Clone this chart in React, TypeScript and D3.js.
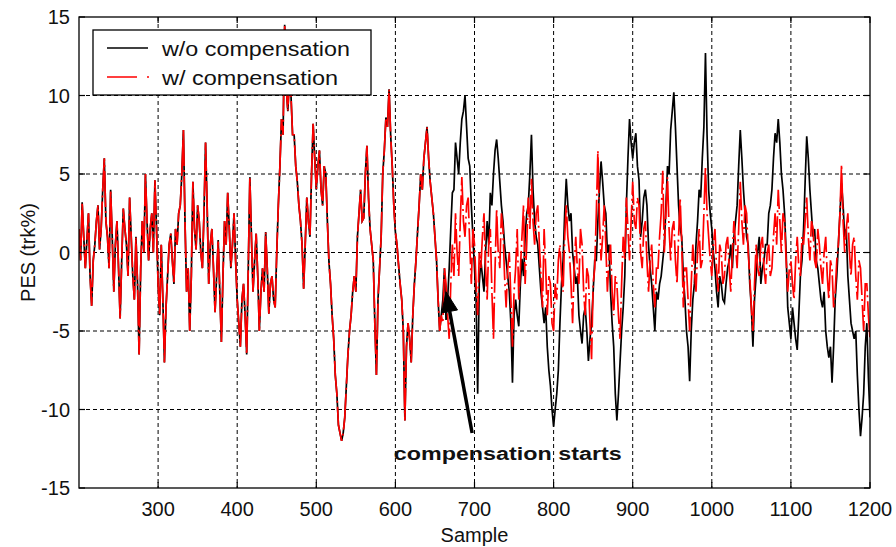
import React from 'react';
import * as d3 from 'd3';

const W = 896;
const H = 547;
const PLOT = { left: 79, right: 870, top: 17, bottom: 488 };

const SAMPLE_START = 200;
const SAMPLE_STEP = 2;

// Samples 200..658 (both series coincide before compensation starts)
const sharedBefore = [
  1.5, -0.5, 3.2, 1.0, -1.0, 0.8, 2.5, -1.5, -3.4, -0.5,
  0.5, 2.0, 3.0, 0.2, 1.5, 4.0, 6.0, 2.0, 1.0, -1.0,
  4.0, 1.0, -2.5, 0.5, 2.0, -1.0, -4.2, -0.5, 2.8, 1.5,
  0.5, -1.5, 3.5, 1.0, -1.5, -3.0, 1.0, -2.0, -6.5, -1.0,
  2.0, 0.0, 5.0, 2.0, -0.5, 1.5, 2.5, 0.0, 4.6, 1.5,
  -2.0, -4.0, 0.5, -3.0, -7.0, -3.5, -1.5, 0.5, 1.2, -0.5,
  -2.0, 1.5, 0.5, 2.5, 3.0, 5.0, 7.8, 2.0, -2.5, -1.0,
  -5.0, -1.5, 4.5, 1.5, 0.2, 3.0, 2.0, 0.0, -1.0, 2.5,
  7.0, 3.0, -2.0, 0.5, 1.5, -1.0, -3.8, -1.5, 0.8, -2.5,
  -5.7, -1.5, 2.0, 0.5, 3.8, 1.5, -1.0, 0.5, 2.5, -0.5,
  -3.0, -4.5, -6.0, -3.0, -2.0, -4.0, -6.5, -1.0, 4.8, 1.0,
  -2.5, -0.5, 1.2, -1.5, -5.0, -2.5, -1.0, -2.5, 1.3, -1.0,
  -3.9, -2.0, -1.5, -3.0, -3.5, 0.0, 3.0, 5.5, 8.5, 7.5,
  14.5, 10.5, 9.0, 11.0, 10.0, 7.5, 7.5, 5.5, 4.5, 3.0,
  2.0, 0.5, -2.3, 0.5, 3.5, 2.0, 1.0, 5.0, 8.2, 6.0,
  4.0, 5.5, 6.5, 4.0, 3.0, 5.5, 5.0, 2.0, -0.6, -2.0,
  -4.0, -5.5, -7.8, -9.0, -11.0, -11.5, -12.0, -11.5, -10.5, -8.5,
  -6.5, -5.0, -4.0, -2.5, -1.5, -2.5, 1.0, 2.5, 4.0, 2.0,
  2.2, 5.0, 6.8, 3.5, 1.5, 0.5, -0.5, -4.5, -7.8, -3.0,
  -1.0, 1.0, 5.0, 6.5, 8.6, 8.0, 10.4, 7.5, 5.5, 3.0,
  1.3, 0.5, -0.8, -2.0, -3.0, -5.0, -10.7, -6.0, -4.5, -5.5,
  -7.0, -4.0, -2.0, -0.5, 1.3, 3.0, 5.0, 4.0, 6.0, 7.0,
  8.0, 6.0, 4.5, 3.5, 2.5, 1.0, -0.5, -3.0, -5.0, -4.0,
];

// Samples 660..1200, without compensation
const blackAfter = [
  -3.0, -1.0, -4.3, -3.0, -1.0, 1.5, 3.8, 4.0, 7.0, 6.0,
  5.0, 7.0, 8.5, 9.0, 10.0, 8.0, 6.0, 5.5, 3.0, 1.0,
  -1.0, -3.0, -9.0, -2.0, -0.5, -1.5, -2.5, 0.0, 2.0, 0.5,
  3.8, 3.0, 5.0, 6.5, 7.2, 6.0, 4.5, 3.0, 2.0, 0.5,
  -0.5, -1.5, -2.5, -4.5, -8.3, -4.0, -3.0, -4.0, -4.7, -2.0,
  -0.4, -1.5, 1.0, 2.5, 3.0, 5.0, 7.5, 4.0, 2.0, 1.0,
  0.5, -1.0, -2.5, -3.5, -4.5, -3.5, -6.0, -7.5, -8.5, -10.0,
  -11.1, -10.0, -9.0, -7.5, -4.5, -2.0, -0.5, 2.5, 4.7, 3.0,
  2.0, 2.5, 0.0, -1.0, -2.0, -1.5, -4.0, -5.0, -5.8, -4.0,
  -3.5, -5.0, -6.9, -5.5, -4.5, -2.5, -0.5, -0.5, 2.0, 4.0,
  5.8, 4.5, 3.0, 2.5, 0.0, 0.5, -2.5, -4.5, -6.0, -9.0,
  -10.7, -9.0, -7.0, -5.0, -3.5, -1.5, 3.0, 6.0, 8.5, 7.0,
  6.0, 7.0, 7.6, 5.5, 4.6, 1.0, 2.0, 3.5, 4.0, 3.0,
  0.5, -1.0, -2.0, -3.5, -5.0, -2.5, -3.0, -2.0, -1.5, -0.5,
  0.5, 3.0, 5.5, 5.0, 7.8, 9.0, 10.2, 8.0, 5.5, 3.0,
  1.5, 1.0, -1.5, -3.0, -5.0, -6.0, -8.2, -5.0, -3.0, -2.0,
  0.5, 2.0, 4.0, 3.5, 6.0, 8.0, 12.7, 7.5, 4.0, 2.5,
  1.5, 0.0, -1.0, -2.5, -3.5, -1.5, -2.0, -3.0, -3.2, -2.0,
  -1.0, -0.5, 0.5, -1.0, 1.0, 2.0, 3.0, 5.5, 7.8, 6.0,
  4.0, 2.5, 1.0, 0.5, -2.0, -3.5, -6.0, -3.0, -1.5, 0.0,
  1.0, -2.0, -1.0, -0.5, 0.5, 0.5, 2.5, 3.0, 4.0, 6.0,
  7.6, 7.0, 8.5, 7.0, 5.0, 4.0, 2.5, 0.0, -3.5, -4.5,
  -5.5, -3.5, -4.5, -5.5, -6.2, -4.0, -1.5, -0.5, 1.5, 4.5,
  7.4, 6.0, 4.0, 2.5, 1.0, 1.5, -0.5, -1.0, -2.0, -3.0,
  -3.5, -2.5, -5.0, -6.0, -6.7, -6.0, -8.3, -6.0, -3.0, -1.5,
  0.5, 2.5, 4.4, 3.0, 1.0, 1.5, -1.5, -3.0, -4.5, -5.0,
  -5.5, -5.0, -7.8, -10.0, -11.7, -10.5, -9.0, -6.0, -4.5, -8.0,
  -10.5,
];

// Samples 660..1200, with compensation
const redAfter = [
  -4.5, -1.0, -2.0, -4.0, -5.5, -2.0, 0.5, -1.5, 2.5, 0.0,
  -1.5, 2.0, 4.8, 2.0, 1.0, 3.0, 3.5, 0.5, -2.0, 1.5,
  0.5, -2.0, -4.0, 0.0, -1.0, 1.0, 2.5, -1.0, -3.0, 0.5,
  1.5, -2.5, -5.5, -1.0, 2.8, 0.0, -1.0, 2.5, 1.5, -1.5,
  -3.5, -1.0, 0.0, -3.0, -6.0, -2.5, -1.0, 1.5, -3.0, -1.0,
  1.0, 3.0, -2.0, 0.5, 3.5, 1.5, 4.7, 2.0, 0.5, 2.5,
  3.0, 0.5, -1.5, -3.5, 1.5, -1.0, -4.0, -1.5, -2.0, -4.5,
  -5.0, -2.0, -3.0, -0.5, 0.5, -1.5, -2.5, 1.0, 3.0, 1.0,
  0.0, -2.0, -4.5, -1.0, 1.0, -1.0, -2.0, 1.5, 0.5, -2.5,
  -4.0, -1.0, -1.5, -4.5, -6.8, -2.0, -1.0, 2.5, 6.5, 2.0,
  -0.5, 1.0, 3.0, 0.5, -2.5, -0.5, 0.5, -2.5, -4.0, -1.5,
  -2.0, -4.0, -5.5, -2.0, 1.0, -0.5, 3.5, 1.5, -0.5, 2.0,
  4.5, 2.0, 1.5, 3.5, 3.0, 0.0, -1.0, 1.5, 2.0, -0.5,
  -2.5, -0.5, 0.5, -2.0, -3.5, -1.0, -1.0, 1.0, 2.5, 5.2,
  0.0, 2.5, 4.8, 1.5, -0.5, 1.5, 2.0, -0.5, -2.0, 1.0,
  3.5, 0.5, -3.5, -1.0, -1.0, -3.0, -5.0, -2.0, 0.5, -1.0,
  -2.5, 0.0, 1.5, -1.0, -0.5, 2.5, 5.5, 2.5, 1.0, -0.5,
  -1.5, 0.5, 1.5, -1.0, -2.5, 0.5, 0.0, -2.0, -1.5, 0.5,
  1.0, -1.0, -2.5, 0.0, 2.0, 0.5, -1.0, 1.5, 4.5, 2.0,
  0.5, 3.0, 2.5, 0.0, -1.5, -3.5, -5.0, -2.0, 0.5, -1.0,
  -1.5, 0.5, 1.0, -1.0, -2.0, 0.0, 0.5, -1.5, -1.0, 1.0,
  2.5, 0.5, 4.0, 2.0, 0.0, 2.5, 2.0, -0.5, -2.5, -1.0,
  -0.5, -2.0, -3.0, -0.5, 1.0, -1.0, -1.5, 1.0, 0.5, 2.0,
  3.5, 1.0, -0.5, 2.0, 1.5, -0.5, -1.0, 1.5, 0.5, -1.0,
  -2.0, 0.0, 1.0, -1.5, -3.0, -0.5, -1.0, -3.5, -2.5, -0.5,
  0.5, 2.5, 5.6, 2.0, 0.0, 1.5, 2.5, 0.0, -1.5, 0.5,
  1.0, -1.5, -3.0, -0.5, -1.0, -3.0, -5.0, -2.0, -2.0, -4.0,
  -5.5,
];

const xTicks = [300, 400, 500, 600, 700, 800, 900, 1000, 1100, 1200];
const yTicks = [-15, -10, -5, 0, 5, 10, 15];
const xGrid = [300, 400, 500, 600, 700, 800, 900, 1000, 1100];
const yGrid = [-10, -5, 0, 5, 10];

const seriesNames = ['w/o compensation', 'w/ compensation'];
const seriesColors = ['#000000', '#ff0000'];

// Annotation (data coordinates)
const annotationText = 'compensation starts';
const arrowTail = [697, -11.5];
const arrowTip = [664, -2.5];
const annotationAnchor = [742, -13.2];

const FONT = '"Liberation Sans", Arial, sans-serif';

export default function App() {
  const x = d3.scaleLinear().domain([200, 1200]).range([PLOT.left, PLOT.right]);
  const y = d3.scaleLinear().domain([-15, 15]).range([PLOT.bottom, PLOT.top]);

  const blackVals = sharedBefore.concat(blackAfter);
  const redVals = sharedBefore.concat(redAfter);
  const toPts = (vals: number[]) =>
    vals.map((v, i) => [SAMPLE_START + i * SAMPLE_STEP, v] as [number, number]);

  const line = d3
    .line<[number, number]>()
    .x((d) => x(d[0]))
    .y((d) => y(d[1]));

  const blackPath = line(toPts(blackVals)) || '';
  const redPath = line(toPts(redVals)) || '';

  const tickLen = 6;

  const tx = x(arrowTail[0]);
  const ty = y(arrowTail[1]);
  const hx = x(arrowTip[0]);
  const hy = y(arrowTip[1]);
  const ang = Math.atan2(hy - ty, hx - tx);
  const headLen = 20;
  const headW = 8;
  const bx = hx - headLen * Math.cos(ang);
  const by = hy - headLen * Math.sin(ang);
  const px = -Math.sin(ang);
  const py = Math.cos(ang);
  const head = `M${hx},${hy} L${bx + headW * px},${by + headW * py} L${bx - headW * px},${by - headW * py} Z`;

  return (
    <svg
      width={W}
      height={H}
      style={{ position: 'absolute', left: 0, top: 0, display: 'block', background: '#fff' }}
    >
      <defs>
        <clipPath id="plotclip">
          <rect x={PLOT.left} y={PLOT.top} width={PLOT.right - PLOT.left} height={PLOT.bottom - PLOT.top} />
        </clipPath>
      </defs>
      <rect x={0} y={0} width={W} height={H} fill="#fff" />

      <g stroke="#000" strokeWidth={1} strokeDasharray="4,3">
        {xGrid.map((t) => (
          <line key={'gx' + t} x1={x(t)} x2={x(t)} y1={PLOT.top} y2={PLOT.bottom} />
        ))}
        {yGrid.map((t) => (
          <line key={'gy' + t} x1={PLOT.left} x2={PLOT.right} y1={y(t)} y2={y(t)} />
        ))}
      </g>

      <g clipPath="url(#plotclip)" fill="none" strokeLinejoin="miter">
        <path d={blackPath} stroke={seriesColors[0]} strokeWidth={1.7} />
        <path d={redPath} stroke={seriesColors[1]} strokeWidth={1.7} strokeDasharray="36,4,2,4" />
      </g>

      <g stroke="#000" strokeWidth={1.2}>
        {xTicks.map((t) => (
          <g key={'tx' + t}>
            <line x1={x(t)} x2={x(t)} y1={PLOT.bottom} y2={PLOT.bottom - tickLen} />
            <line x1={x(t)} x2={x(t)} y1={PLOT.top} y2={PLOT.top + tickLen} />
          </g>
        ))}
        {yTicks.map((t) => (
          <g key={'ty' + t}>
            <line x1={PLOT.left} x2={PLOT.left + tickLen} y1={y(t)} y2={y(t)} />
            <line x1={PLOT.right} x2={PLOT.right - tickLen} y1={y(t)} y2={y(t)} />
          </g>
        ))}
      </g>

      <rect
        x={PLOT.left}
        y={PLOT.top}
        width={PLOT.right - PLOT.left}
        height={PLOT.bottom - PLOT.top}
        fill="none"
        stroke="#000"
        strokeWidth={1.3}
      />

      <g fontFamily={FONT} fontSize={20} fill="#111">
        {xTicks.map((t) => (
          <text key={'lx' + t} x={x(t)} y={PLOT.bottom + 28} textAnchor="middle">
            {t}
          </text>
        ))}
        {yTicks.map((t) => (
          <text key={'ly' + t} x={PLOT.left - 9} y={y(t) + 7} textAnchor="end">
            {t}
          </text>
        ))}
      </g>

      <text
        x={(PLOT.left + PLOT.right) / 2}
        y={542}
        textAnchor="middle"
        fontFamily={FONT}
        fontSize={20}
        fill="#111"
      >
        Sample
      </text>
      <text
        transform={`translate(35, ${(PLOT.top + PLOT.bottom) / 2}) rotate(-90)`}
        textAnchor="middle"
        fontFamily={FONT}
        fontSize={20}
        fill="#111"
      >
        PES (trk%)
      </text>

      <path d={`M${tx},${ty} L${bx},${by}`} stroke="#000" strokeWidth={3.5} />
      <path d={head} fill="#000" stroke="#000" strokeWidth={1} />
      <text
        x={x(annotationAnchor[0])}
        y={y(annotationAnchor[1])}
        textAnchor="middle"
        fontFamily={FONT}
        fontWeight="bold"
        fontSize={18}
        fill="#111"
        textLength={228}
        lengthAdjust="spacingAndGlyphs"
      >
        {annotationText}
      </text>

      <g>
        <rect x={93} y={30} width={278} height={65} fill="#fff" stroke="#000" strokeWidth={1.3} />
        <line x1={107} x2={148} y1={48} y2={48} stroke={seriesColors[0]} strokeWidth={1.4} />
        <line x1={107} x2={149} y1={77} y2={77} stroke={seriesColors[1]} strokeWidth={1.4} strokeDasharray="30,10,2,10" />
        <text x={162} y={56} fontFamily={FONT} fontSize={20} fill="#111" textLength={188} lengthAdjust="spacingAndGlyphs">
          {seriesNames[0]}
        </text>
        <text x={162} y={85} fontFamily={FONT} fontSize={20} fill="#111" textLength={176} lengthAdjust="spacingAndGlyphs">
          {seriesNames[1]}
        </text>
      </g>
    </svg>
  );
}
